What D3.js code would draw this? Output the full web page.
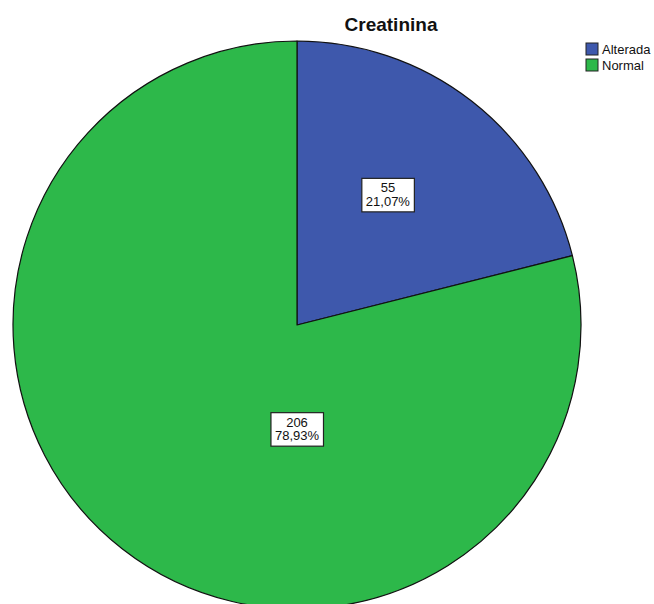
<!DOCTYPE html>
<html>
<head>
<meta charset="utf-8">
<script src="https://cdn.jsdelivr.net/npm/d3@7/dist/d3.min.js"></script>
<style>
  html, body { margin: 0; padding: 0; background: #fff; overflow: hidden; }
  svg { display: block; font-family: "Liberation Sans", Arial, sans-serif; }
</style>
</head>
<body>
<svg id="chart" width="654" height="604"></svg>
<script>
// Creatinina: counts per category
const categories = ["Alterada", "Normal"];
const counts = [55, 206];
const percentLabels = ["21,07%", "78,93%"];
const colors = ["#3e58ac", "#2db84a"];

const width = 654, height = 604;
const cx = 297, cy = 325, radius = 284;

// label anchor offsets, as fractions of the radius
const labelOffsets = [[0.32, -0.46], [0.0, 0.365]];

const svg = d3.select("#chart");

svg.append("text")
  .attr("x", 391).attr("y", 31)
  .attr("text-anchor", "middle")
  .attr("font-size", 19)
  .attr("font-weight", "bold")
  .attr("fill", "#111")
  .text("Creatinina");

const pie = d3.pie().sort(null).value(d => d);
const arcs = pie(counts);
const arc = d3.arc().innerRadius(0).outerRadius(radius);

const g = svg.append("g").attr("transform", `translate(${cx},${cy})`);

g.selectAll("path.slice")
  .data(arcs)
  .join("path")
  .attr("class", "slice")
  .attr("d", arc)
  .attr("fill", (d, i) => colors[i])
  .attr("stroke", "#111")
  .attr("stroke-width", 1.2)
  .attr("stroke-linejoin", "round");

// value boxes
const labels = g.selectAll("g.lbl")
  .data(arcs)
  .join("g")
  .attr("class", "lbl")
  .attr("transform", (d, i) => `translate(${labelOffsets[i][0] * radius},${labelOffsets[i][1] * radius})`);

labels.each(function(d, i) {
  const sel = d3.select(this);
  const rect = sel.append("rect");
  const t = sel.append("text")
    .attr("text-anchor", "middle")
    .attr("font-size", 13)
    .attr("fill", "#111");
  t.append("tspan").attr("x", 0).attr("y", -2).text(counts[i]);
  t.append("tspan").attr("x", 0).attr("y", 11.5).text(percentLabels[i]);
  const bb = t.node().getBBox();
  rect.attr("x", bb.x - 4).attr("y", bb.y - 2)
    .attr("width", bb.width + 8).attr("height", bb.height + 5)
    .attr("fill", "#fff")
    .attr("stroke", "#222")
    .attr("stroke-width", 1.2);
});

// legend
const legend = svg.append("g").attr("transform", "translate(586,43)");
const items = legend.selectAll("g")
  .data(categories)
  .join("g")
  .attr("transform", (d, i) => `translate(0,${i * 16})`);
items.append("rect")
  .attr("width", 12).attr("height", 12)
  .attr("fill", (d, i) => colors[i])
  .attr("stroke", "#222").attr("stroke-width", 1);
items.append("text")
  .attr("x", 16).attr("y", 10.5)
  .attr("font-size", 13)
  .attr("fill", "#111")
  .text(d => d);
</script>
</body>
</html>
